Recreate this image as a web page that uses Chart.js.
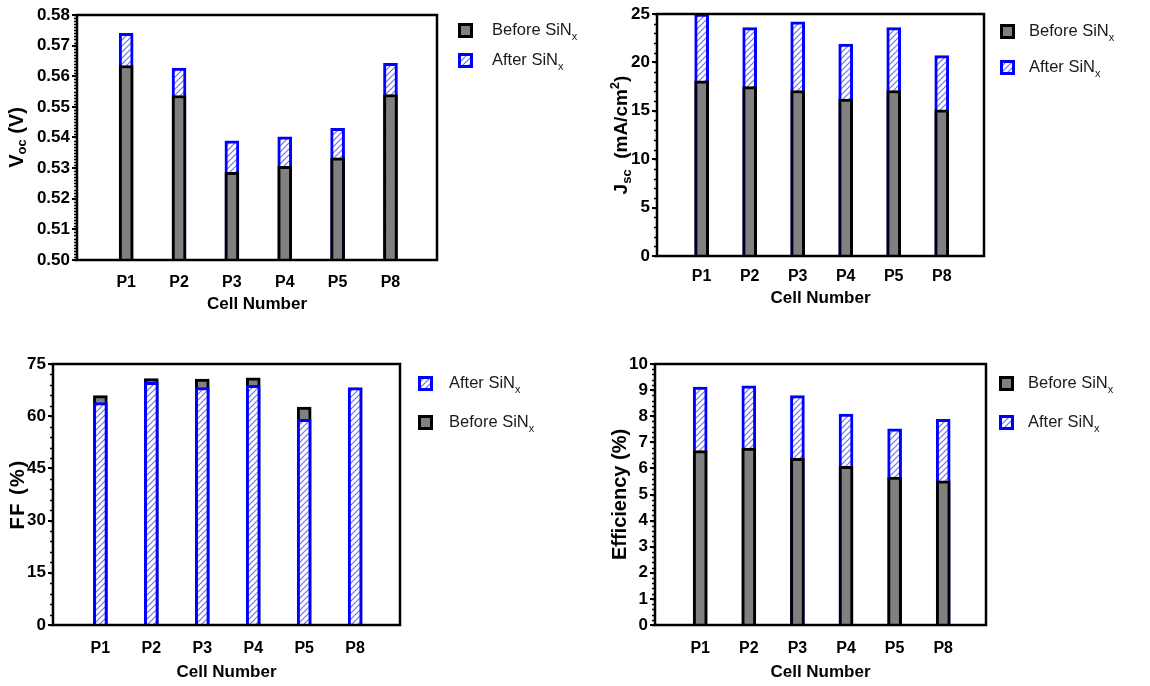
<!DOCTYPE html>
<html>
<head>
<meta charset="utf-8">
<script src="https://cdn.jsdelivr.net/npm/chart.js@4.4.1/dist/chart.umd.min.js"></script>
<style>
  html, body { margin: 0; padding: 0; background: #fff; }
  body { width: 1150px; height: 686px; position: relative; overflow: hidden; }
  canvas { position: absolute; }
</style>
</head>
<body>
<canvas id="c1" width="600" height="335" style="left:0;top:0"></canvas>
<canvas id="c2" width="550" height="335" style="left:600px;top:0"></canvas>
<canvas id="c3" width="600" height="346" style="left:0;top:340px"></canvas>
<canvas id="c4" width="550" height="346" style="left:600px;top:340px"></canvas>
<script>
// ---------------- DATA ----------------
const categories = ['P1', 'P2', 'P3', 'P4', 'P5', 'P8'];

const vocBefore = [0.5635, 0.5537, 0.5286, 0.5306, 0.5334, 0.5540];
const vocAfter  = [0.5740, 0.5627, 0.5389, 0.5402, 0.5430, 0.5642];

const jscBefore = [18.1, 17.5, 17.1, 16.2, 17.1, 15.1];
const jscAfter  = [25.0, 23.6, 24.2, 21.9, 23.6, 20.7];

const ffAfter   = [63.9, 69.7, 68.2, 68.9, 59.1, 68.2];
const ffBefore  = [65.9, 70.8, 70.7, 71.0, 62.6, 68.0];

const effBefore = [6.68, 6.78, 6.39, 6.08, 5.67, 5.52];
const effAfter  = [9.12, 9.16, 8.79, 8.08, 7.52, 7.88];

const vocTicks = [0.50, 0.51, 0.52, 0.53, 0.54, 0.55, 0.56, 0.57, 0.58];
const jscTicks = [0, 5, 10, 15, 20, 25];
const ffTicks  = [0, 15, 30, 45, 60, 75];
const effTicks = [0, 1, 2, 3, 4, 5, 6, 7, 8, 9, 10];

const beforeLabel = 'Before SiN';
const afterLabel  = 'After SiN';
const subX = 'x';
const xTitle = 'Cell Number';

// ---------------- STYLE HELPERS ----------------
const FONT = "'Liberation Sans', Arial, sans-serif";

function makeHatch() {
  const c = document.createElement('canvas');
  c.width = 6; c.height = 6;
  const g = c.getContext('2d');
  g.fillStyle = '#ffffff';
  g.fillRect(0, 0, 6, 6);
  g.strokeStyle = '#6f6fff';
  g.lineWidth = 1.2;
  g.beginPath();
  g.moveTo(0, 6); g.lineTo(6, 0);
  g.moveTo(-1, 1); g.lineTo(1, -1);
  g.moveTo(5, 7); g.lineTo(7, 5);
  g.stroke();
  return g.createPattern(c, 'repeat');
}

function measureRich(ctx, segs) {
  let w = 0;
  segs.forEach(s => {
    ctx.font = s.f;
    ctx.letterSpacing = s.ls || '0px';
    w += ctx.measureText(s.t).width;
  });
  return w;
}
function drawRich(ctx, segs, x, y, align) {
  const total = measureRich(ctx, segs);
  let cx = align === 'center' ? x - total / 2 : x;
  ctx.textBaseline = 'middle';
  ctx.textAlign = 'left';
  segs.forEach(s => {
    ctx.font = s.f;
    ctx.letterSpacing = s.ls || '0px';
    ctx.fillStyle = s.c || '#000';
    ctx.fillText(s.t, cx, y + (s.dy || 0));
    cx += ctx.measureText(s.t).width;
  });
  ctx.letterSpacing = '0px';
}

const decorPlugin = {
  id: 'decor',
  afterDraw(chart, args, opts) {
    const ctx = chart.ctx;
    const a = chart.chartArea;
    const y = chart.scales.y;
    ctx.save();
    // minor ticks
    ctx.strokeStyle = '#000';
    ctx.lineWidth = 1.5;
    const n = Math.round((y.max - y.min) / opts.minor);
    ctx.beginPath();
    for (let i = 0; i <= n; i++) {
      const v = y.min + i * opts.minor;
      const py = Math.round(y.getPixelForValue(v)) + 0.5;
      ctx.moveTo(a.left - 3, py);
      ctx.lineTo(a.left, py);
    }
    ctx.stroke();
    // frame
    ctx.lineWidth = 2.5;
    ctx.strokeRect(a.left, a.top, a.right - a.left, a.bottom - a.top);
    // y title
    ctx.save();
    ctx.translate(opts.yTitleX, (a.top + a.bottom) / 2);
    ctx.rotate(-Math.PI / 2);
    drawRich(ctx, opts.yTitle, 0, 0, 'center');
    ctx.restore();
    // x title
    drawRich(ctx, [{ t: xTitle, f: 'bold 17px ' + FONT }], (a.left + a.right) / 2, opts.xTitleY, 'center');
    // legend
    const L = opts.legend;
    chart.data.datasets.forEach((ds, i) => {
      const sy = L.ys[i];
      const s = L.size;
      ctx.fillStyle = ds.backgroundColor;
      ctx.fillRect(L.x, sy, s, s);
      ctx.strokeStyle = ds.borderColor;
      ctx.lineWidth = 3;
      ctx.strokeRect(L.x + 1.5, sy + 1.5, s - 3, s - 3);
      drawRich(ctx, [
        { t: ds.label, f: '16.5px ' + FONT, c: '#1a1a1a' },
        { t: subX, f: '11px ' + FONT, dy: 6, c: '#1a1a1a' }
      ], L.textX, sy + s / 2, 'left');
    });
    ctx.restore();
  }
};

const hatch = makeHatch();

function beforeDs(vals) {
  return {
    label: beforeLabel,
    data: vals.map((v, i) => ({ x: i, y: v })),
    backgroundColor: '#808080',
    borderColor: '#000000',
    borderWidth: 3,
    borderSkipped: 'start',
    barThickness: 14
  };
}
function afterDs(vals) {
  return {
    label: afterLabel,
    data: vals.map((v, i) => ({ x: i, y: v })),
    backgroundColor: hatch,
    borderColor: '#0000ff',
    borderWidth: 3,
    borderSkipped: 'start',
    barThickness: 14
  };
}

function makeChart(id, cfg) {
  const el = document.getElementById(id);
  return new Chart(el, {
    type: 'bar',
    data: { datasets: cfg.datasets },
    plugins: [decorPlugin],
    options: {
      responsive: false,
      animation: false,
      devicePixelRatio: 1,
      layout: { padding: { left: 0, top: cfg.top, right: cfg.right, bottom: 0 } },
      plugins: {
        legend: { display: false },
        tooltip: { enabled: false },
        decor: cfg.decor
      },
      scales: {
        x: {
          type: 'linear',
          stacked: true,
          offset: false,
          min: -0.93,
          max: 5.88,
          afterBuildTicks: s => { s.ticks = categories.map((_, i) => ({ value: i })); },
          afterFit: s => { s.height = cfg.xh; },
          grid: { display: false },
          border: { display: false },
          ticks: {
            autoSkip: false,
            maxRotation: 0,
            padding: cfg.xpad,
            color: '#000',
            font: { family: FONT, weight: 'bold', size: 16 },
            callback: v => (categories[v] !== undefined ? categories[v] : '')
          }
        },
        y: {
          stacked: false,
          min: cfg.ticks[0],
          max: cfg.ticks[cfg.ticks.length - 1],
          afterBuildTicks: s => { s.ticks = cfg.ticks.map(v => ({ value: v })); },
          afterFit: s => { s.width = cfg.yw; },
          grid: { display: true, drawOnChartArea: false, drawTicks: true, tickLength: 5, lineWidth: 2, color: '#000' },
          border: { display: false },
          ticks: {
            padding: 2,
            color: '#000',
            font: { family: FONT, weight: 'bold', size: 17 },
            callback: v => cfg.fmt(v)
          }
        }
      }
    }
  });
}

const big = 'bold 20px ' + FONT;
const small = 'bold 13px ' + FONT;

makeChart('c1', {
  datasets: [beforeDs(vocBefore), afterDs(vocAfter)],
  ticks: vocTicks, fmt: v => v.toFixed(2),
  top: 15, right: 163, yw: 77, xh: 75, xpad: 5,
  decor: {
    minor: 0.001, yTitleX: 17, xTitleY: 304,
    yTitle: [{ t: 'V', f: big }, { t: 'oc', f: small, dy: 5 }, { t: ' (V)', f: big }],
    legend: { x: 458, ys: [23, 53], size: 15, textX: 492 }
  }
});

makeChart('c2', {
  datasets: [beforeDs(jscBefore), afterDs(jscAfter)],
  ticks: jscTicks, fmt: v => String(v),
  top: 14, right: 166, yw: 57, xh: 79, xpad: 3,
  decor: {
    minor: 1, yTitleX: 22, xTitleY: 298,
    yTitle: [{ t: 'J', f: 'bold 19px ' + FONT }, { t: 'sc', f: small, dy: 5 }, { t: '  (mA/cm', f: 'bold 19px ' + FONT }, { t: '2', f: small, dy: -7 }, { t: ')', f: 'bold 19px ' + FONT }],
    legend: { x: 400, ys: [24, 60], size: 15, textX: 429 }
  }
});

makeChart('c3', {
  datasets: [afterDs(ffAfter), beforeDs(ffBefore)],
  ticks: ffTicks, fmt: v => String(v),
  top: 24, right: 200, yw: 53, xh: 61, xpad: 6,
  decor: {
    minor: 3, yTitleX: 18, xTitleY: 332,
    yTitle: [{ t: 'FF (%)', f: big, ls: '1.5px' }],
    legend: { x: 418, ys: [36, 75], size: 15, textX: 449 }
  }
});

makeChart('c4', {
  datasets: [beforeDs(effBefore), afterDs(effAfter)],
  ticks: effTicks, fmt: v => String(v),
  top: 24, right: 164, yw: 55, xh: 61, xpad: 6,
  decor: {
    minor: 0.2, yTitleX: 20, xTitleY: 332,
    yTitle: [{ t: 'Efficiency (%)', f: big }],
    legend: { x: 399, ys: [36, 75], size: 15, textX: 428 }
  }
});
</script>
</body>
</html>
